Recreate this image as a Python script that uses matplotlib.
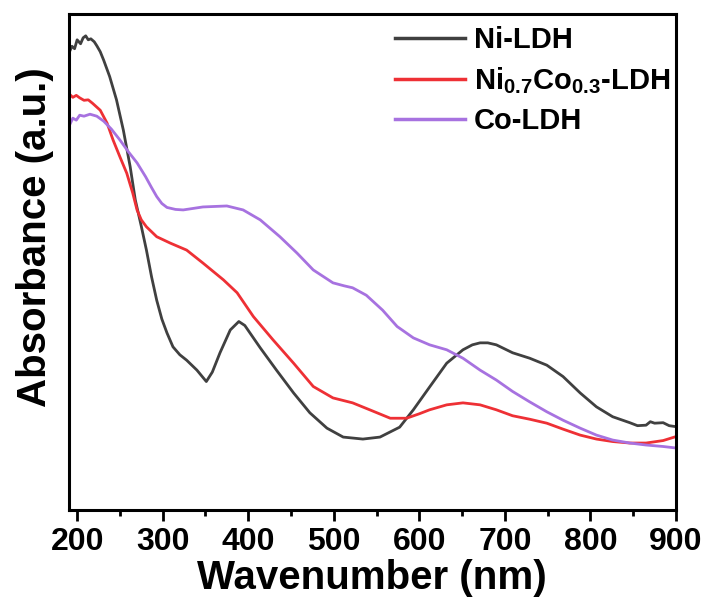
import matplotlib
matplotlib.use("Agg")
import matplotlib.pyplot as plt
from matplotlib.ticker import MultipleLocator

plt.rcParams['font.family'] = ['Liberation Sans', 'DejaVu Sans']
plt.rcParams['font.weight'] = 'bold'
plt.rcParams['mathtext.fontset'] = 'custom'
plt.rcParams['mathtext.rm'] = 'Liberation Sans:bold'
plt.rcParams['mathtext.bf'] = 'Liberation Sans:bold'
plt.rcParams['mathtext.default'] = 'bf'

# ---- data (absorbance in arbitrary units) ----
ni_wl = [190, 194, 197, 200, 204, 207, 210, 213, 216, 220, 223, 227, 231, 238, 246, 254, 262, 268,
         275, 281, 287, 293, 299, 305, 312, 320, 328, 340, 351, 358, 367, 379, 389, 396, 402, 414,
         433, 453, 472, 492, 511, 534, 554, 577, 593, 612, 632, 651, 662, 671, 680, 690, 709, 729,
         749, 768, 788, 807, 826, 846, 855, 865, 870, 875, 885, 892, 900]
ni_abs = [0.920, 0.935, 0.930, 0.948, 0.940, 0.952, 0.956, 0.948, 0.950, 0.944, 0.936, 0.924,
          0.907, 0.874, 0.827, 0.766, 0.692, 0.625, 0.572, 0.524, 0.470, 0.423, 0.385, 0.357,
          0.329, 0.313, 0.302, 0.282, 0.259, 0.278, 0.317, 0.363, 0.380, 0.372, 0.357, 0.327,
          0.282, 0.236, 0.196, 0.165, 0.147, 0.143, 0.147, 0.167, 0.202, 0.248, 0.296, 0.323,
          0.333, 0.337, 0.337, 0.333, 0.317, 0.306, 0.292, 0.269, 0.236, 0.208, 0.188, 0.176,
          0.170, 0.171, 0.178, 0.175, 0.176, 0.170, 0.168]

nico_wl = [190, 195, 199, 203, 208, 213, 218, 227, 235, 242, 250, 258, 265, 270, 275, 281, 293,
           309, 328, 347, 371, 387, 406, 429, 453, 476, 499, 522, 542, 566, 585, 600, 612, 632,
           651, 671, 690, 709, 729, 749, 768, 788, 807, 826, 846, 865, 885, 900]
nico_abs = [0.840, 0.832, 0.836, 0.831, 0.826, 0.827, 0.820, 0.806, 0.780, 0.746, 0.712, 0.679,
            0.639, 0.605, 0.585, 0.571, 0.551, 0.538, 0.524, 0.498, 0.464, 0.438, 0.390, 0.343,
            0.296, 0.249, 0.226, 0.216, 0.202, 0.185, 0.185, 0.194, 0.202, 0.212, 0.216, 0.212,
            0.202, 0.190, 0.183, 0.175, 0.163, 0.151, 0.143, 0.138, 0.135, 0.135, 0.140, 0.148]

co_wl = [190, 195, 199, 203, 208, 215, 223, 231, 240, 250, 260, 270, 280, 287, 293, 299, 305,
         315, 324, 347, 375, 394, 414, 437, 457, 476, 499, 512, 522, 538, 557, 574, 593, 612,
         632, 651, 671, 690, 709, 729, 749, 768, 788, 807, 826, 846, 865, 885, 900]
co_abs = [0.772, 0.790, 0.786, 0.796, 0.794, 0.798, 0.794, 0.784, 0.768, 0.746, 0.722, 0.700,
          0.672, 0.650, 0.632, 0.618, 0.610, 0.606, 0.605, 0.611, 0.613, 0.605, 0.585, 0.551,
          0.518, 0.484, 0.458, 0.452, 0.448, 0.433, 0.403, 0.370, 0.347, 0.333, 0.323, 0.306,
          0.282, 0.262, 0.239, 0.218, 0.198, 0.181, 0.165, 0.151, 0.141, 0.135, 0.131, 0.128,
          0.125]

series_labels = ['Ni-LDH', r'Ni$_{0.7}$Co$_{0.3}$-LDH', 'Co-LDH']
series_colors = ['#404040', '#ee3035', '#a772e0']
xticks = [200, 300, 400, 500, 600, 700, 800, 900]

fig = plt.figure(figsize=(7.1, 5.99), dpi=100)
ax = fig.add_axes([0.0966, 0.1486, 0.8555, 0.828])

for wl, ab, lab, col in zip([ni_wl, nico_wl, co_wl], [ni_abs, nico_abs, co_abs],
                            series_labels, series_colors):
    ax.plot(wl, ab, color=col, lw=2.0, label=lab, solid_joinstyle='round')

ax.set_xlim(190, 900)
ax.set_ylim(0, 1)
ax.set_xticks(xticks)
ax.set_xticklabels([str(t) for t in xticks])
ax.xaxis.set_minor_locator(MultipleLocator(50))
ax.set_yticks([])
ax.tick_params(axis='x', which='major', direction='out', length=8, width=2,
               labelsize=23, pad=4)
ax.tick_params(axis='x', which='minor', direction='out', length=4, width=2)
for lbl in ax.get_xticklabels():
    lbl.set_fontweight('bold')
for sp in ax.spines.values():
    sp.set_linewidth(2.2)

ax.set_xlabel('Wavenumber (nm)', fontsize=29, fontweight='bold', labelpad=2)
ax.set_ylabel('Absorbance (a.u.)', fontsize=29, fontweight='bold')
ax.yaxis.set_label_coords(-0.024, 0.55)

leg = ax.legend(loc='upper left', bbox_to_anchor=(0.537, 0.975), frameon=False,
                fontsize=21, handlelength=2.4, handletextpad=0.3, borderpad=0,
                borderaxespad=0, labelspacing=0.38)
for line in leg.get_lines():
    line.set_linewidth(2.5)

fig.savefig('out.png', dpi=100)
